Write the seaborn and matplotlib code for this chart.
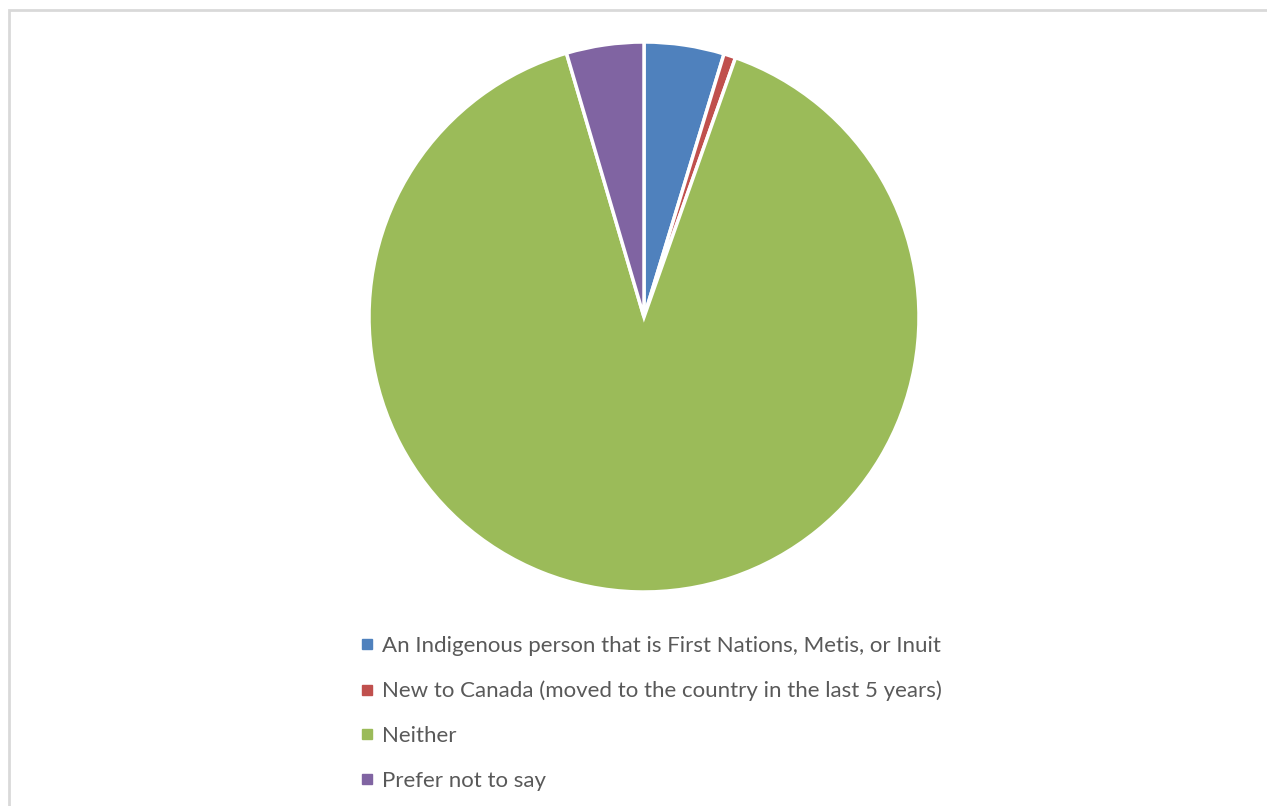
import matplotlib
matplotlib.use("Agg")
import matplotlib.pyplot as plt
from matplotlib.patches import Rectangle
from matplotlib.lines import Line2D
import seaborn as sns

categories = [
    "An Indigenous person that is First Nations, Metis, or Inuit",
    "New to Canada (moved to the country in the last 5 years)",
    "Neither",
    "Prefer not to say",
]
shares = [4.7, 0.7, 90.05, 4.55]
colors = ["#4F81BD", "#C0504D", "#9BBB59", "#8064A2"]

sns.set_theme(style="white")
plt.rcParams["font.family"] = ["Lato", "DejaVu Sans"]

W, H = 1267, 806
fig = plt.figure(figsize=(W / 100, H / 100), dpi=100)
fig.patch.set_facecolor("white")

# chart frame
fig.patches.append(Rectangle((9 / W, -0.05), 1.1, (H - 10) / H + 0.05,
                             transform=fig.transFigure, fill=False,
                             edgecolor="#D9D9D9", linewidth=2))

cx, cy, r = 644, 317, 275
ax = fig.add_axes([(cx - r) / W, (H - cy - r) / H, 2 * r / W, 2 * r / H])
ax.pie(shares, colors=colors, startangle=90, counterclock=False, radius=1,
       wedgeprops=dict(edgecolor="white", linewidth=2.5))
ax.set_xlim(-1.0, 1.0)
ax.set_ylim(-1.0, 1.0)
ax.set_aspect("equal")
ax.axis("off")

handles = [Line2D([0], [0], marker="s", linestyle="none", markersize=6.5,
                  markerfacecolor=c, markeredgecolor=c) for c in colors]
leg = fig.legend(handles, categories, loc="upper left",
                 bbox_to_anchor=(350 / W, 1 - 625 / H), frameon=False,
                 fontsize=16, labelcolor="#595959", labelspacing=1.11,
                 handlelength=0.55, handletextpad=0.4, borderpad=0)

fig.savefig("out.png", dpi=100, facecolor="white")
